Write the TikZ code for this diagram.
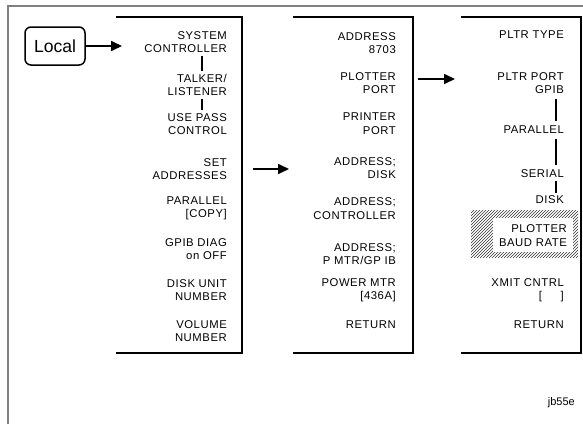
\documentclass[tikz,border=0pt]{standalone}
\usepackage{fontspec}
\setmainfont{Liberation Sans}
\newfontfamily\itemfont[LetterSpace=5]{Liberation Sans}
\usetikzlibrary{arrows.meta}
\begin{document}
\begin{tikzpicture}[x=1pt,y=-1pt,
  itm/.style={anchor=east,align=right,inner sep=0pt,font=\itemfont\fontsize{11.3}{13.5}\selectfont},
  panel/.style={line width=1.7pt},
  link/.style={line width=1.7pt,shorten <=3pt,shorten >=3pt},
  arr/.style={line width=1.7pt,-{Triangle[length=11pt,width=10pt]}},
  border/.style={draw=gray,line width=2.5pt}]
\useasboundingbox (0,0) rectangle (583,424);
% frame
\draw[border] (8,424) -- (8,6) -- (583,6);
% panels
\draw[panel] (116,17) -- (242,17) -- (242,353) -- (116,353);
\draw[panel] (293,17) -- (413,17) -- (413,353) -- (293,353);
\draw[panel] (461,17) -- (581,17) -- (581,353) -- (461,353);
% Local
\node[draw,line width=1.5pt,rounded corners=6pt,minimum width=60pt,minimum height=38pt,inner sep=0pt,font=\fontsize{17.5}{20}\selectfont] (local) at (55,46) {Local};
\coordinate (p1in) at (122,46);
\draw[arr] (local.east) -- (p1in);
% panel 1
\node[itm] (a1) at (227,42) {SYSTEM\\CONTROLLER};
\node[itm] (a2) at (227,85) {TALKER/\\LISTENER};
\node[itm] (a3) at (227,124) {USE PASS\\CONTROL};
\node[itm] (a4) at (227,169) {SET\\ADDRESSES};
\node[itm] (a5) at (227,208.5) {PARALLEL\\{[COPY]}};
\node[itm] (a6) at (227,249) {GPIB DIAG\\on OFF};
\node[itm] (a7) at (227,290) {DISK UNIT\\NUMBER};
\node[itm] (a8) at (227,331) {VOLUME\\NUMBER};
\coordinate (x1) at (202,0);
\draw[link] (a1.south -| x1) -- (a2.north -| x1);
\draw[link] (a2.south -| x1) -- (a3.north -| x1);
\coordinate (arr1s) at (253,169);
\coordinate (arr1e) at (289,169);
\draw[arr] (arr1s) -- (arr1e);
% panel 2
\node[itm] (b1) at (396,43) {ADDRESS\\8703};
\node[itm] (b2) at (396,83) {PLOTTER\\PORT};
\node[itm] (b3) at (396,123.5) {PRINTER\\PORT};
\node[itm] (b4) at (396,168) {ADDRESS;\\DISK};
\node[itm] (b5) at (396,208.5) {ADDRESS;\\CONTROLLER};
\node[itm] (b6) at (396,254) {ADDRESS;\\P MTR/GP IB};
\node[itm] (b7) at (396,290) {POWER MTR\\{[436A]}};
\node[itm] (b8) at (396,325) {RETURN};
\coordinate (arr2s) at (418,79);
\coordinate (arr2e) at (455,79);
\draw[arr] (arr2s) -- (arr2e);
% panel 3: hatched frame
\begin{scope}
\clip (471,210) rectangle (578,258);
\foreach \k in {-60,-57,...,120}
  \draw[line width=0.5pt,black!80] (471+\k,258) -- (471+\k+48,210);
\end{scope}
\fill[white] (493,218) rectangle (573,252);
\node[itm] (c1) at (564,35) {PLTR TYPE};
\node[itm] (c2) at (564,83) {PLTR PORT\\GPIB};
\node[itm] (c3) at (564,130) {PARALLEL};
\node[itm] (c4) at (564,174) {SERIAL};
\node[itm] (c5) at (564,200) {DISK};
\node[itm] (c6) at (567,235.5) {PLOTTER\\BAUD RATE};
\node[itm] (c7) at (564,290) {XMIT CNTRL\\{[\quad\ \ ]}};
\node[itm] (c8) at (564,325) {RETURN};
\coordinate (x3) at (556,0);
\draw[link,shorten <=5pt,shorten >=5pt] (c2.south -| x3) -- (c3.north -| x3);
\draw[link,shorten <=5pt,shorten >=5pt] (c3.south -| x3) -- (c4.north -| x3);
\draw[link] (c4.south -| x3) -- (c5.north -| x3);
% tag
\node[anchor=east,inner sep=0pt,font=\fontsize{11}{13}\selectfont] (tag) at (575,403) {jb55e};
\end{tikzpicture}
\end{document}
